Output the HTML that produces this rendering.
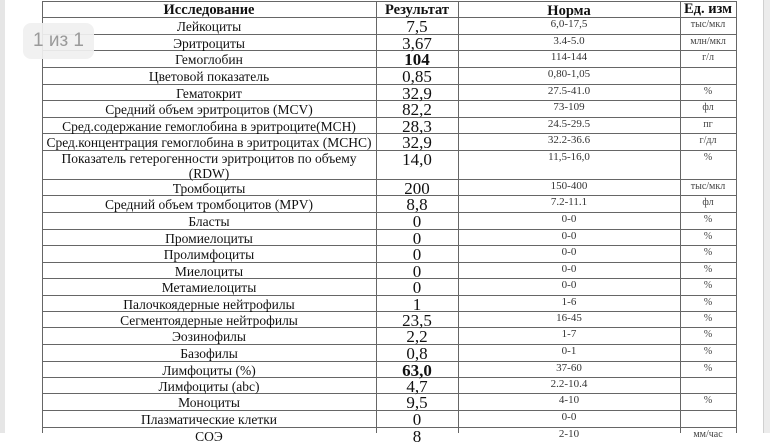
<!DOCTYPE html>
<html><head><meta charset="utf-8"><style>
body{margin:0;width:770px;height:433px;overflow:hidden;background:#fff;position:relative;font-family:"Liberation Serif","DejaVu Serif",serif;color:#111}
.l{position:absolute;background:#666}
.c{position:absolute;text-align:center;white-space:nowrap}
.n{font-size:13.5px}
.v{font-size:17px}
.r{font-size:11px;color:#333}
.u{font-size:10px;color:#444}
</style></head><body>
<div style="position:absolute;left:0;top:0;width:5px;height:433px;background:#e6e6e6"></div>
<div style="position:absolute;left:763px;top:0;width:7px;height:433px;background:#ececec;border-left:1px solid #d0d0d0"></div>
<div id="t"></div>
<div style="position:absolute;left:23px;top:23px;width:71px;height:36px;background:rgba(240,240,240,0.93);border-radius:8px;font-family:'Liberation Sans',sans-serif;font-size:19px;color:#9a9a9a;text-align:center;line-height:36px">1 из 1</div>
<script>
var lines=[1,17,34,50,67,84,100,117,133,150,179,195,212,229,245,262,278,295,311,327,344,361,377,393,410,427];
var rows=[
["Лейкоциты","7,5","6,0-17,5","тыс/мкл"],
["Эритроциты","3,67","3.4-5.0","млн/мкл"],
["Гемоглобин","<b>104</b>","114-144","г/л"],
["Цветовой показатель","0,85","0,80-1,05",""],
["Гематокрит","32,9","27.5-41.0","%"],
["Средний объем эритроцитов (MCV)","82,2","73-109","фл"],
["Сред.содержание гемоглобина в эритроците(MCH)","28,3","24.5-29.5","пг"],
["Сред.концентрация гемоглобина в эритроцитах (MCHC)","32,9","32.2-36.6","г/дл"],
["Показатель гетерогенности эритроцитов по объему<br>(RDW)","14,0","11,5-16,0","%"],
["Тромбоциты","200","150-400","тыс/мкл"],
["Средний объем тромбоцитов (MPV)","8,8","7.2-11.1","фл"],
["Бласты","0","0-0","%"],
["Промиелоциты","0","0-0","%"],
["Пролимфоциты","0","0-0","%"],
["Миелоциты","0","0-0","%"],
["Метамиелоциты","0","0-0","%"],
["Палочкоядерные нейтрофилы","1","1-6","%"],
["Сегментоядерные нейтрофилы","23,5","16-45","%"],
["Эозинофилы","2,2","1-7","%"],
["Базофилы","0,8","0-1","%"],
["Лимфоциты (%)","<b>63,0</b>","37-60","%"],
["Лимфоциты (abc)","4,7","2.2-10.4",""],
["Моноциты","9,5","4-10","%"],
["Плазматические клетки","0","0-0",""],
["СОЭ","8","2-10","мм/час"]];
var cols=[42,376,458,680,736];
var h="";
lines.forEach(function(y){h+='<div class="l" style="left:42px;top:'+y+'px;width:695px;height:1.3px"></div>';});
cols.forEach(function(x){h+='<div class="l" style="left:'+x+'px;top:1px;width:1.3px;height:432px"></div>';});
function cell(cls,x1,x2,top,txt,lh){h+='<div class="c '+cls+'" style="left:'+x1+'px;width:'+(x2-x1)+'px;top:'+top+'px;line-height:'+lh+'px">'+txt+'</div>';}
cell("n",42,376,1,"<b style='font-size:14.5px'>Исследование</b>",17);
cell("n",376,458,1,"<b style='font-size:14.5px'>Результат</b>",17);
cell("n",458,680,2,"<b style='font-size:14.5px'>Норма</b>",17);
cell("n",680,736,0,"<b style='font-size:14.5px'>Ед. изм</b>",17);
rows.forEach(function(r,i){
 var t=lines[i+1];
 cell("n",42,376,t+1,r[0],i==8?15:17);
 cell("v",376,458,t+1,r[1],17);
 cell("r",458,680,t,r[2],14);
 cell("u",680,736,t+1,r[3],14);
});
document.getElementById("t").innerHTML=h;
</script>
</body></html>
